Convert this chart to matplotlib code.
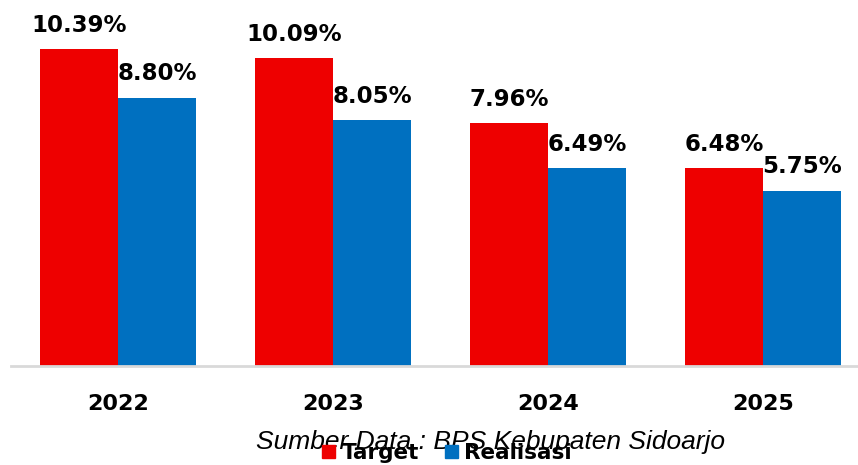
import matplotlib.pyplot as plt
import numpy as np
from matplotlib.patches import Patch

# Data
years = ["2022", "2023", "2024", "2025"]
target = [10.39, 10.09, 7.96, 6.48]
realisasi = [8.80, 8.05, 6.49, 5.75]

RED = "#ee0000"
BLUE = "#0070c0"

fig = plt.figure(figsize=(8.58, 4.65), dpi=100)
ax = fig.add_axes([10.5 / 858, 99 / 465, 848 / 858, 366 / 465])

x = np.arange(len(years))
w = 0.3625
b1 = ax.bar(x - w / 2, target, w, color=RED)
b2 = ax.bar(x + w / 2, realisasi, w, color=BLUE)

for bars, vals in ((b1, target), (b2, realisasi)):
    for bar, v in zip(bars, vals):
        ax.text(bar.get_x() + bar.get_width() / 2, v + 0.4, f"{v:.2f}%",
                ha="center", va="bottom", fontsize=16.5, fontweight="heavy")

ax.set_xlim(-0.5, -0.5 + 848 / 215)
ax.set_ylim(0, 12)
for s in ("top", "right", "left"):
    ax.spines[s].set_visible(False)
ax.spines["bottom"].set_color("#d9d9d9")
ax.spines["bottom"].set_linewidth(2)
ax.set_yticks([])
ax.set_xticks(x)
ax.set_xticklabels(years, fontsize=16, fontweight="bold")
ax.tick_params(axis="x", length=0, pad=20)

fig.text(490 / 858, 1 - 442 / 465, "Sumber Data : BPS Kebupaten Sidoarjo",
         ha="center", va="center", fontsize=19, style="italic",
         family="Liberation Sans")

handles = [Patch(color=RED, label="Target"), Patch(color=BLUE, label="Realisasi")]
fig.legend(handles=handles, loc="center", bbox_to_anchor=(447 / 858, 1 - 453 / 465),
           ncol=2, frameon=False, handlelength=0.6, handleheight=0.6,
           handletextpad=0.3, columnspacing=1.2,
           prop={"size": 15.5, "weight": "bold"})

fig.savefig("out.png", dpi=100)
